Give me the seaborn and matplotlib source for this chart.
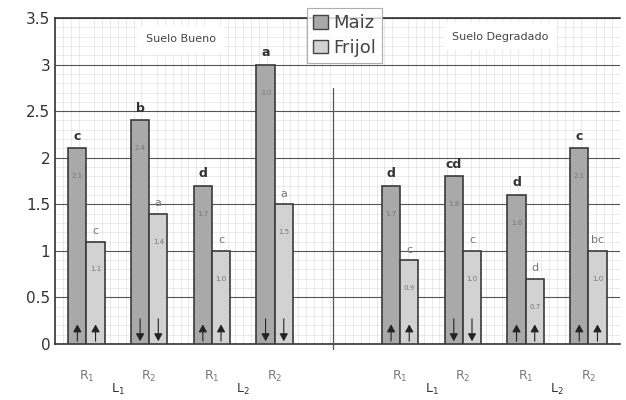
import numpy as np
import pandas as pd
import matplotlib
matplotlib.use("Agg")
import matplotlib.pyplot as plt
from matplotlib.ticker import MultipleLocator, FuncFormatter
from matplotlib.patches import Patch
import seaborn as sns

# ---- data ----
grupos = ["B_L1_R1", "B_L1_R2", "B_L2_R1", "B_L2_R2",
          "D_L1_R1", "D_L1_R2", "D_L2_R1", "D_L2_R2"]
orden = grupos[:4] + ["gap"] + grupos[4:]
tick_labels = ["R$_1$", "R$_2$", "R$_1$", "R$_2$", "", "R$_1$", "R$_2$", "R$_1$", "R$_2$"]
maiz = [2.1, 2.4, 1.7, 3.0, 1.7, 1.8, 1.6, 2.1]
frijol = [1.1, 1.4, 1.0, 1.5, 0.9, 1.0, 0.7, 1.0]
letras_maiz = ["c", "b", "d", "a", "d", "cd", "d", "c"]
letras_frijol = ["c", "a", "c", "a", "c", "c", "d", "bc"]
direcciones = ["up", "down", "up", "down", "up", "down", "up", "up"]
l_labels = ["L$_1$", "L$_2$", "L$_1$", "L$_2$"]
l_pos = [0.5, 2.5, 5.5, 7.5]

df = pd.DataFrame({
    "grupo": grupos * 2,
    "cultivo": ["Maiz"] * 8 + ["Frijol"] * 8,
    "valor": maiz + frijol,
})

sns.set_style("white")
fig = plt.figure(figsize=(6.26, 4.0), dpi=100)
ax = fig.add_axes([0.088, 0.14, 0.902, 0.815])

colors = {"Maiz": "#a9a9a9", "Frijol": "#d2d2d2"}
sns.barplot(data=df, x="grupo", y="valor", hue="cultivo", order=orden,
            hue_order=["Maiz", "Frijol"], palette=colors, width=0.58,
            edgecolor="#3a3a3a", linewidth=1.2, ax=ax, legend=False, zorder=3)

ax.set_ylim(0, 3.5)
ax.set_xlim(-0.5, 8.5)
ax.yaxis.set_major_locator(MultipleLocator(0.5))
ax.yaxis.set_minor_locator(MultipleLocator(0.1))
ax.yaxis.set_major_formatter(FuncFormatter(lambda v, p: f"{v:g}"))
ax.set_xticks(range(9))
ax.set_xticks(np.arange(-0.5, 8.5, 0.125), minor=True)
ax.set_xticklabels(tick_labels, color="#777777", fontsize=9)
ax.tick_params(axis="x", which="both", length=0, pad=18)
ax.tick_params(axis="y", which="both", length=0, labelsize=11, colors="#333333")
ax.grid(axis="y", which="major", color="#555555", linewidth=0.8, zorder=1)
ax.grid(which="minor", color="#e2e2e2", linewidth=0.5, zorder=0)
ax.set_axisbelow(True)
ax.set_xlabel("")
ax.set_ylabel("")
for s in ["left", "bottom", "top"]:
    ax.spines[s].set_color("#333333")
    ax.spines[s].set_linewidth(1.2)
ax.spines["right"].set_visible(False)

bars_m = ax.containers[0]
bars_f = ax.containers[1]

for i, (bm, bf) in enumerate(zip(bars_m, bars_f)):
    xm = bm.get_x() + bm.get_width() / 2
    xf = bf.get_x() + bf.get_width() / 2
    hm = bm.get_height()
    hf = bf.get_height()
    ax.text(xm, hm + 0.06, letras_maiz[i], ha="center", va="bottom",
            fontsize=9, fontweight="bold", color="#333333", zorder=5)
    ax.text(xf, hf + 0.06, letras_frijol[i], ha="center", va="bottom",
            fontsize=8, color="#777777", zorder=5)
    ax.text(xm, hm - 0.3, f"{hm:.1f}", ha="center", va="center",
            fontsize=5, color="#777777", zorder=5)
    ax.text(xf, hf - 0.3, f"{hf:.1f}", ha="center", va="center",
            fontsize=5, color="#777777", zorder=5)
    for x in (xm, xf):
        if direcciones[i] == "up":
            ax.annotate("", xy=(x, 0.24), xytext=(x, 0.0),
                        arrowprops=dict(arrowstyle="-|>,head_width=0.25,head_length=0.45",
                                        color="#222222", lw=0.8), zorder=6)
        else:
            ax.annotate("", xy=(x, 0.0), xytext=(x, 0.3),
                        arrowprops=dict(arrowstyle="-|>,head_width=0.25,head_length=0.45",
                                        color="#222222", lw=0.8), zorder=6)

# divider
ax.plot([3.93, 3.93], [-0.05, 2.75], color="#555555", lw=0.9, clip_on=False, zorder=4)

ax.text(1.5, 3.27, "Suelo Bueno", ha="center", va="center", fontsize=8,
        color="#444444", bbox=dict(facecolor="white", edgecolor="none", pad=6), zorder=4)
ax.text(6.6, 3.3, "Suelo Degradado", ha="center", va="center", fontsize=8,
        color="#444444", bbox=dict(facecolor="white", edgecolor="none", pad=6), zorder=4)

for lp, ll in zip(l_pos, l_labels):
    ax.text(lp, -0.115, ll, transform=ax.get_xaxis_transform(), ha="center",
            va="top", fontsize=9, color="#333333")

handles = [Patch(facecolor=colors["Maiz"], edgecolor="#444444", label="Maiz"),
           Patch(facecolor=colors["Frijol"], edgecolor="#444444", label="Frijol")]
leg = ax.legend(handles=handles, loc="upper left", bbox_to_anchor=(0.43, 1.058),
                fontsize=13, frameon=True, fancybox=False, handlelength=0.8,
                handleheight=0.8, handletextpad=0.3, borderpad=0.35, labelspacing=0.35)
leg.get_frame().set_edgecolor("#999999")
leg.get_frame().set_linewidth(0.8)
leg.set_zorder(10)
for t in leg.get_texts():
    t.set_color("#444444")

fig.savefig("out.png", dpi=100)
